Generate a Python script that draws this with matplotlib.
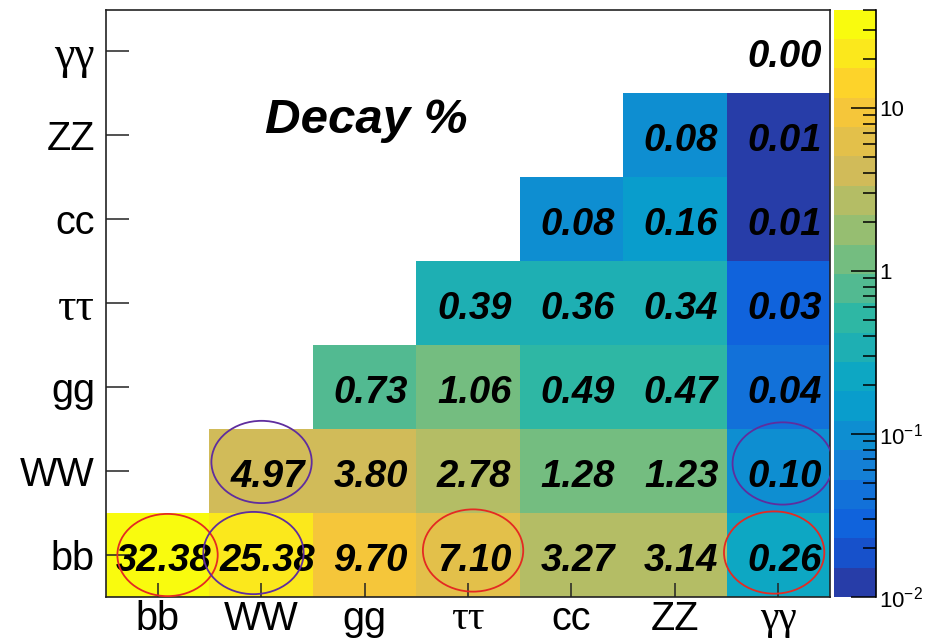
import numpy as np
import matplotlib
matplotlib.use("Agg")
import matplotlib.pyplot as plt
from matplotlib.colors import LinearSegmentedColormap, ListedColormap, LogNorm
from matplotlib.patches import Ellipse
from matplotlib.ticker import FixedLocator, LogLocator, NullFormatter

plt.rcParams["font.family"] = ["Liberation Sans", "DejaVu Sans"]

# Higgs pair decay channels (same order on both axes)
channels = ["bb", "WW", "gg", "ττ", "cc", "ZZ", "γγ"]

# Decay fractions in %, each row starts at its own channel on the x axis
row_bb = [32.38, 25.38, 9.70, 7.10, 3.27, 3.14, 0.26]
row_WW = [4.97, 3.80, 2.78, 1.28, 1.23, 0.10]
row_gg = [0.73, 1.06, 0.49, 0.47, 0.04]
row_tautau = [0.39, 0.36, 0.34, 0.03]
row_cc = [0.08, 0.16, 0.01]
row_ZZ = [0.08, 0.01]
row_gamgam = [0.00]

# colour-axis range and contour count
z_min, z_max = 0.01, 40.0
n_contours = 20

# highlighted cells: (row channel, column channel)
red_marked = [("bb", "bb"), ("bb", "ττ"), ("bb", "γγ")]
purple_marked = [("bb", "WW"), ("WW", "WW"), ("WW", "γγ")]

rows = [row_bb, row_WW, row_gg, row_tautau, row_cc, row_ZZ, row_gamgam]
n = len(channels)
Z = np.full((n, n), np.nan)
for i, r in enumerate(rows):
    Z[i, i:i + len(r)] = r

# ROOT "kBird" palette, quantised into the contour bands
stops = [0.0, 0.125, 0.25, 0.375, 0.5, 0.625, 0.75, 0.875, 1.0]
red = [0.2082, 0.0592, 0.0780, 0.0232, 0.1802, 0.5301, 0.8186, 0.9956, 0.9764]
green = [0.1664, 0.3599, 0.5041, 0.6419, 0.7178, 0.7492, 0.7328, 0.7862, 0.9832]
blue = [0.5293, 0.8684, 0.8385, 0.7914, 0.6425, 0.4662, 0.3499, 0.1968, 0.0539]
bird = LinearSegmentedColormap.from_list(
    "bird", list(zip(stops, zip(red, green, blue))), N=255)
band_colors = [bird(int((k + 0.99) * 255 / n_contours) / 254.0) for k in range(n_contours)]
cmap = ListedColormap(band_colors)
cmap.set_bad((1, 1, 1, 0))

fig = plt.figure(figsize=(9.26, 6.39), dpi=100)
ax = fig.add_axes([106 / 926, 42 / 639, 724 / 926, 587.5 / 639])
cax = fig.add_axes([834 / 926, 42 / 639, 42.5 / 926, 587.5 / 639])

Zm = np.ma.masked_invalid(Z)
edges = np.arange(n + 1)
mesh = ax.pcolormesh(edges, edges, Zm, cmap=cmap,
                     norm=LogNorm(vmin=z_min, vmax=z_max))

for i in range(n):
    for j in range(n):
        v = Z[i, j]
        if np.isnan(v):
            continue
        ax.text(j + 0.56, i + 0.48, f"{v:.2f}", ha="center", va="center_baseline",
                fontsize=27.5, fontweight="bold", fontstyle="italic", color="black")

# ellipses around the highlighted cells (small offsets keep them clear of the digits)
shift = {("bb", "bb"): (0.095, 0.0), ("bb", "ττ"): (0.049, 0.054),
         ("bb", "γγ"): (-0.04, 0.03), ("bb", "WW"): (-0.074, 0.024),
         ("WW", "WW"): (0.004, 0.109), ("WW", "γγ"): (0.043, 0.091)}
for marked, col in ((red_marked, "#e42a22"), (purple_marked, "#5f2d9e")):
    for ry, cx in marked:
        i, j = channels.index(ry), channels.index(cx)
        dx, dy = shift[(ry, cx)]
        ax.add_patch(Ellipse((j + 0.5 + dx, i + 0.5 + dy), 0.97, 0.98,
                             fill=False, ec=col, lw=1.3, zorder=5))

ax.text(1.54, 5.53, "Decay %", ha="left", va="baseline", fontsize=35.5,
        fontweight="bold", fontstyle="italic")

ax.set_xlim(0, n)
ax.set_ylim(0, n)
centers = np.arange(n) + 0.5
ax.set_xticks(centers)
ax.set_yticks(centers)
ax.set_xticklabels(channels)
ax.set_yticklabels(channels)
ax.tick_params(axis="x", direction="in", length=10, width=1.1, pad=2,
               labelsize=28.5, top=False, color="#222222")
ax.tick_params(axis="y", direction="in", length=16.5, width=1.1, pad=8,
               labelsize=28.5, right=False, color="#222222")
for lab in ax.get_yticklabels():
    if any(ch in lab.get_text() for ch in "τγ"):
        lab.set_fontfamily(["Liberation Serif", "DejaVu Serif"])
        lab.set_fontsize(33)
for lab in ax.get_xticklabels():
    if any(ch in lab.get_text() for ch in "τγ"):
        lab.set_fontfamily(["Liberation Serif", "DejaVu Serif"])
        lab.set_fontsize(30)
for sp in ax.spines.values():
    sp.set_color("#222222")
    sp.set_linewidth(1.2)

cb = fig.colorbar(mesh, cax=cax)
cb.outline.set_visible(False)
cax.spines["right"].set_visible(True)
cax.spines["right"].set_color("black")
cax.spines["right"].set_linewidth(1.2)
cax.yaxis.set_ticks_position("right")
cax.yaxis.set_major_locator(FixedLocator([0.01, 0.1, 1, 10]))
cax.set_yticklabels([r"$\mathdefault{10^{-2}}$", r"$\mathdefault{10^{-1}}$", "1", "10"])
cax.yaxis.set_minor_locator(LogLocator(base=10, subs=np.arange(2, 10)))
cax.yaxis.set_minor_formatter(NullFormatter())
cax.tick_params(which="major", direction="in", length=18, width=1.1, pad=2,
                labelsize=16, color="black")
cax.tick_params(which="minor", direction="in", length=9.4, width=1.1, color="black")

fig.savefig("out.png", dpi=100)
